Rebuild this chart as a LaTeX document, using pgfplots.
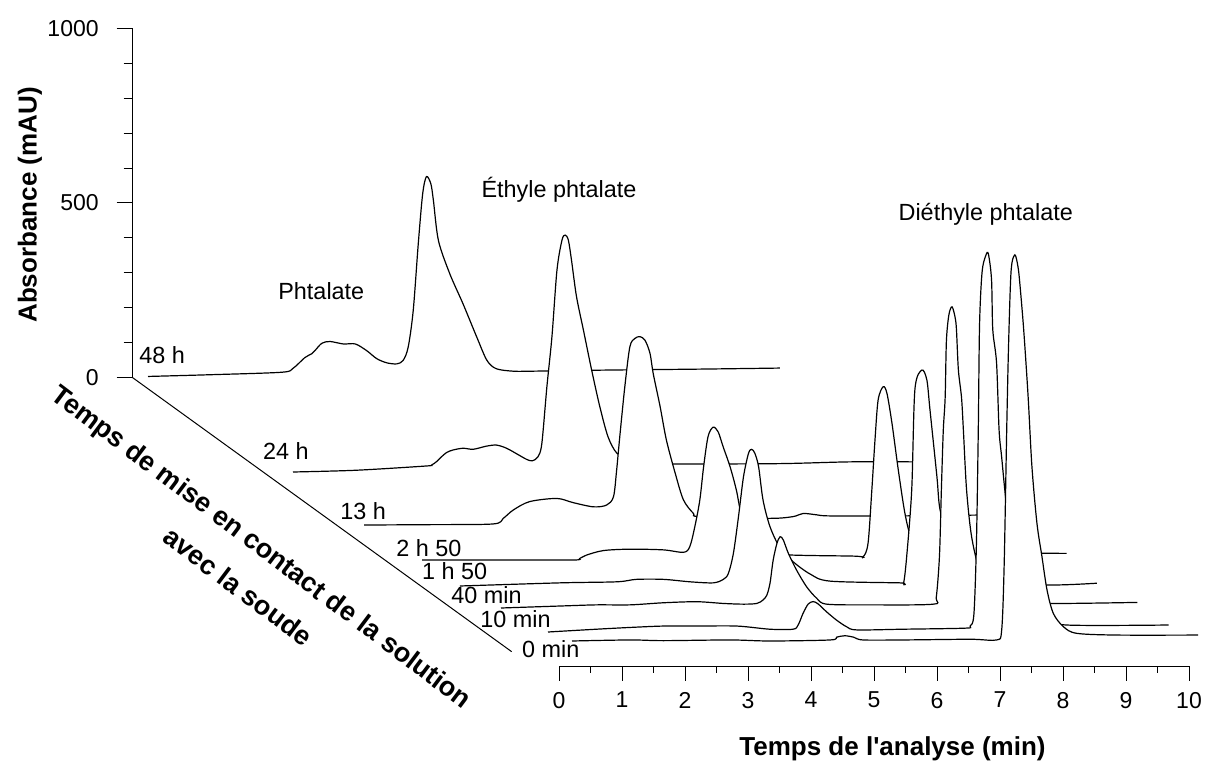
\documentclass[border=0pt]{standalone}
\usepackage{pgfplots}
\usepackage{pgfplotstable}
\usepackage{fontspec}
\setmainfont{Liberation Sans}
\pgfplotsset{compat=1.18}

% chromatograms: t (min) and absorbance (mAU), each on its own baseline
\pgfplotstableread{
t A
0 3
1.00 8
2.12 15
2.30 26
2.49 57
2.60 68
2.65 77
2.76 98
2.89 103
3.10 96
3.29 96
3.47 77
3.63 54
3.79 42
3.95 39
4.05 49
4.13 87
4.21 192
4.29 383
4.36 526
4.42 575
4.49 554
4.53 507
4.61 392
4.79 297
5.00 211
5.22 115
5.38 49
5.53 25
5.80 18
6.06 18
7.17 21
8.76 24
10.03 27
}\dataA % 48 h

\pgfplotstableread{
t A
0 0
1.00 5
2.10 17
2.20 20
2.28 30
2.36 44
2.44 56
2.54 63
2.70 68
2.86 65
3.07 74
3.23 77
3.39 68
3.58 49
3.71 36
3.80 32
3.89 44
3.95 82
4.03 244
4.11 387
4.19 578
4.27 664
4.32 678
4.37 664
4.42 607
4.50 502
4.61 406
4.74 292
4.87 187
5.00 101
5.14 54
5.35 34
5.67 26
6.14 23
7.73 24
8.84 29
9.83 29
}\dataB % 24 h

\pgfplotstableread{
t A
0 0
1.05 1
2.05 3
2.21 19
2.37 43
2.63 67
3.06 76
3.32 64
3.64 52
3.85 57
3.96 81
4.01 157
4.06 253
4.14 396
4.22 510
4.30 534
4.38 539
4.46 529
4.54 491
4.59 434
4.70 339
4.80 243
4.94 148
5.07 72
5.23 33
5.33 24
6.44 19
6.81 24
6.97 33
7.19 29
7.40 26
8.51 26
10.0 29
}\dataC % 13 h

\pgfplotstableread{
t A
0 0
1.24 0
2.40 0
2.50 4
2.61 14
2.88 27
3.30 31
3.83 29
4.15 22
4.25 38
4.33 95
4.41 172
4.47 267
4.54 353
4.62 380
4.70 367
4.78 324
4.89 267
4.99 200
5.07 129
5.21 72
5.42 20
6.87 11
7.00 9
7.08 48
7.14 200
7.19 343
7.24 458
7.32 496
7.38 477
7.46 391
7.56 258
7.67 129
7.78 57
7.98 23
8.38 17
9.17 19
10.23 19
}\dataD % 2 h 50

\pgfplotstableread{
t A
0 0
1.59 9
2.49 12
2.80 19
3.23 19
3.65 12
4.02 9
4.18 19
4.26 36
4.34 94
4.42 198
4.50 313
4.58 380
4.63 391
4.68 380
4.74 341
4.81 246
4.92 170
5.08 109
5.29 69
5.56 34
5.87 14
6.98 9
7.04 8
7.09 84
7.17 275
7.22 561
7.33 618
7.41 590
7.46 504
7.57 313
7.62 218
7.78 117
8.02 46
8.41 17
9.33 3
10.11 8
}\dataE % 1 h 50

\pgfplotstableread{
t A
0 0
0.99 6
1.52 9
2.05 9
2.58 15
3.11 18
3.53 13
3.85 11
4.06 13
4.16 23
4.22 37
4.27 71
4.32 137
4.38 185
4.43 204
4.48 195
4.56 157
4.69 109
4.85 61
5.01 28
5.17 11
5.86 9
6.86 11
6.91 32
6.96 150
6.99 338
7.02 507
7.05 602
7.07 765
7.11 840
7.16 862
7.21 830
7.23 795
7.26 681
7.31 602
7.34 507
7.39 338
7.47 204
7.60 109
7.84 46
8.16 20
8.77 13
10.10 16
}\dataF % 40 min

\pgfplotstableread{
t A
0 0
0.77 8
1.30 13
1.83 17
2.36 17
3.00 17
3.52 8
3.89 8
3.97 20
4.05 54
4.13 80
4.21 87
4.29 80
4.42 58
4.58 34
4.74 15
4.90 6
5.64 8
6.62 11
6.70 17
6.76 50
6.80 250
6.83 580
6.85 880
6.89 1030
6.95 1078
6.99 1082
7.04 1009
7.06 865
7.12 770
7.16 578
7.20 502
7.28 359
7.41 206
7.65 92
7.89 40
8.23 20
9.85 20
}\dataG % 10 min

\pgfplotstableread{
t A
0 0
0.92 3
1.45 1
2.51 3
3.14 0
4.10 3
4.20 11
4.33 15
4.47 11
4.62 3
5.26 3
6.32 5
6.74 3
6.82 31
6.86 220
6.90 604
6.93 850
6.97 1060
7.03 1105
7.08 1070
7.11 1020
7.17 890
7.24 699
7.30 500
7.38 337
7.46 241
7.54 146
7.64 79
7.80 41
8.01 22
8.65 17
9.94 17
}\dataH % 0 min

\pgfplotsset{
  trace/.style={x=31.5pt, y=0.1747pt, xmin=0, xmax=10, ymin=0, ymax=1000,
    hide axis, clip=false, anchor=south west},
}
\newcommand{\trace}[1]{%
  \addplot[draw=none, fill=white, smooth] table {#1} \closedcycle;
  \addplot[black, line width=0.6pt, smooth] table {#1};
}
\newcommand{\lbl}{\fontsize{11.7}{14}\selectfont}
\newcommand{\bigfont}{\bfseries\fontsize{13}{15}\selectfont}

\begin{document}
\begin{tikzpicture}
\useasboundingbox (0,0) rectangle (602.5pt,380.5pt);

% absorbance axis
\begin{axis}[at={(66.35pt,191.65pt)}, anchor=south west,
  x=31.5pt, y=0.1747pt, xmin=0, xmax=1, ymin=0, ymax=1000,
  axis x line=none, axis y line*=left,
  axis line style={line width=0.5pt},
  ytick={0,500,1000}, yticklabels={0,500,1000},
  minor ytick={100,200,300,400,600,700,800,900},
  tick align=outside, major tick length=8pt, minor tick length=4.5pt,
  every tick/.style={black, line width=0.5pt},
  yticklabel style={font=\fontsize{11.5}{13}\selectfont, xshift=-5.5pt}]
\end{axis}

% analysis time axis
\begin{axis}[at={(279.5pt,47.5pt)}, anchor=south west,
  x=31.5pt, y=1pt, xmin=0, xmax=10, ymin=0, ymax=1,
  axis y line=none, axis x line*=bottom,
  axis line style={line width=0.5pt},
  xtick={0,1,...,10}, minor x tick num=1,
  tick align=outside, major tick length=7.5pt, minor tick length=3.5pt,
  every tick/.style={black, line width=0.5pt},
  /pgf/number format/assume math mode=true,
  xticklabel style={font=\fontsize{11.5}{13}\selectfont, yshift=-2pt}]
\end{axis}

\draw[line width=0.5pt] (66.35pt,191.65pt) -- (255.85pt,54.65pt);

% traces from back to front
\begin{axis}[trace, at={(74pt,191.75pt)}] \trace{\dataA} \end{axis}
\begin{axis}[trace, at={(146.5pt,144.5pt)}] \trace{\dataB} \end{axis}
\begin{axis}[trace, at={(182pt,118pt)}] \trace{\dataC} \end{axis}
\begin{axis}[trace, at={(211pt,100.5pt)}] \trace{\dataD} \end{axis}
\begin{axis}[trace, at={(230pt,87.5pt)}] \trace{\dataE} \end{axis}
\begin{axis}[trace, at={(250.5pt,76.5pt)}] \trace{\dataF} \end{axis}
\begin{axis}[trace, at={(274pt,64.5pt)}] \trace{\dataG} \end{axis}
\begin{axis}[trace, at={(286pt,60pt)}] \trace{\dataH} \end{axis}

% labels
\node[rotate=90, font=\bigfont] at (15pt,278pt) {Absorbance (mAU)};
\node[anchor=base, inner sep=0, font=\bigfont] at (446.25pt,3pt) {Temps de l\textquotesingle analyse (min)};
\node[rotate=-37, font=\bfseries\fontsize{13.5}{16}\selectfont] at (130.3pt,106.25pt) {Temps de mise en contact de la solution};
\node[rotate=-37, font=\bfseries\fontsize{13.5}{16}\selectfont] at (119.25pt,87.25pt) {avec la soude};

\node[anchor=base, inner sep=0, font=\lbl] at (492.9pt,270pt) {Diéthyle phtalate};
\node[anchor=base, inner sep=0, font=\lbl] at (279.5pt,281.85pt) {Éthyle phtalate};
\node[anchor=base, inner sep=0, font=\lbl] at (160.65pt,230.85pt) {Phtalate};

\begin{scope}[every node/.style={anchor=base west, inner sep=0, font=\lbl}]
\node at (69.5pt,198.85pt) {48 h};
\node at (131.35pt,150.85pt) {24 h};
\node at (170pt,120.85pt) {13 h};
\node at (198pt,102.15pt) {2 h 50};
\node at (210.85pt,90.5pt) {1 h 50};
\node at (225.5pt,78.5pt) {40 min};
\node at (240pt,66.85pt) {10 min};
\node at (260.85pt,51.85pt) {0 min};
\end{scope}
\end{tikzpicture}
\end{document}
